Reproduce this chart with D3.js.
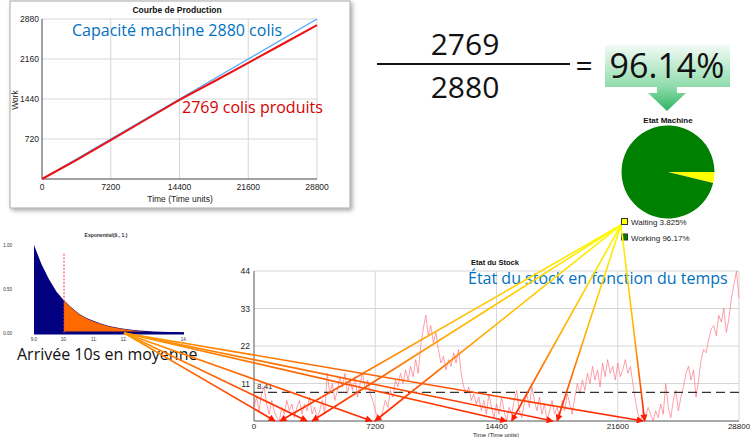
<!DOCTYPE html>
<html><head><meta charset="utf-8">
<script src="https://cdn.jsdelivr.net/npm/d3@7/dist/d3.min.js"></script>
<style>body{margin:0;background:#fff;} svg{display:block;}</style>
</head><body>
<svg id="c" width="750" height="437"></svg>
<script>
// ---------- DATA ----------
const prodTimes = [0,3600,7200,10800,14400,18000,21600,25200,28800];
const capacity  = [0,360,720,1080,1440,1800,2160,2520,2880];
const produced  = [0,340,700,1062,1425,1755,2090,2430,2769];
const prodXTicks = [0,7200,14400,21600,28800];
const prodYTicks = [720,1440,2160,2880];

const fracNum = "2769", fracDen = "2880", fracResult = "96.14%";

const pieLabels = ["Waiting 3.825%","Working 96.17%"];
const pieValues = [3.825,96.17];
const pieColors = ["#ffff00","#008000"];

const expX = [9,9.25,9.5,9.75,10,10.25,10.5,10.75,11,11.25,11.5,11.75,12,12.25,12.5,12.75,13,13.25,13.5,13.75,14];
const expY = [1.0,0.78,0.61,0.47,0.37,0.29,0.22,0.17,0.135,0.105,0.08,0.062,0.048,0.036,0.028,0.022,0.018,0.015,0.012,0.01,0.008];
const expXTicks = [9,10,11,12,14];
const expXLabels = ["9.0","10.","11.","12.","14."];
const expYTicks = [0,0.5,1];
const expYLabels = ["0.00","0.50","1.00"];

const stockStep = 150;
const stockValues = [
 4,7,3,8,10,5,2,6,3,1,
 0,4,2,6,3,5,1,4,6,2,
 5,3,7,2,4,1,3,6,2,14,
 8,11,6,9,13,10,14,8,12,9,
 13,7,11,14,9,12,8,6,3,1,
 0,3,6,4,9,7,12,10,14,11,
 15,12,16,13,18,14,22,27,31,25,
 28,23,26,21,17,19,15,18,16,20,
 17,21,14,10,8,10,6,8,5,7,
 3,6,2,8,4,1,5,2,7,3,
 0,4,2,6,9,3,1,5,8,4,
 10,6,3,7,2,5,0,3,6,2,
 4,1,6,3,8,5,2,7,11,8,
 12,9,14,11,16,12,15,10,17,13,
 18,14,16,12,17,13,15,18,14,16,
 11,6,2,0,3,1,4,2,0,3,
 1,5,2,11,4,1,6,9,3,7,
 10,14,16,12,15,7,12,18,21,20,
 24,27,28,25,31,29,33,26,30,36,
 40,44,36];
const stockXTicks = [0,7200,14400,21600,28800];
const stockYTicks = [11,22,33,44];
const stockMean = 8.41;

const waitTargets = [1550,3450,7180,15300,18000,23200];
const arrivalTargets = [1250,3150,7000,15000,17750,23100];
const arrivalSourceX = 12;

// ---------- DRAW ----------
const svg = d3.select("#c");
const defs = svg.append("defs");
const f = defs.append("filter").attr("id","sh").attr("x","-5%").attr("y","-5%").attr("width","115%").attr("height","115%");
f.append("feDropShadow").attr("dx",2).attr("dy",2).attr("stdDeviation",2).attr("flood-color","#000").attr("flood-opacity",0.35);

const sans = "'Liberation Sans', Arial, sans-serif";
const open = "'Open Sans', sans-serif";

// ---- Production chart ----
svg.append("rect").attr("x",10).attr("y",1).attr("width",340).attr("height",207)
  .attr("fill","#fff").attr("stroke","#a8a8a8").attr("filter","url(#sh)");
const xP = d3.scaleLinear().domain([0,28800]).range([42,317]);
const yP = d3.scaleLinear().domain([0,2880]).range([179,19]);
const gP = svg.append("g");
gP.selectAll(".vg").data(prodXTicks.slice(1)).join("line")
  .attr("x1",d=>xP(d)).attr("x2",d=>xP(d)).attr("y1",yP(0)).attr("y2",yP(2880))
  .attr("stroke","#d6d6d6");
gP.selectAll(".hg").data(prodYTicks).join("line")
  .attr("x1",xP(0)).attr("x2",xP(28800)).attr("y1",d=>yP(d)).attr("y2",d=>yP(d))
  .attr("stroke","#d6d6d6");
gP.append("line").attr("x1",xP(0)).attr("x2",xP(0)).attr("y1",yP(0)).attr("y2",yP(2880)).attr("stroke","#444");
gP.append("line").attr("x1",xP(0)).attr("x2",xP(28800)).attr("y1",yP(0)).attr("y2",yP(0)).attr("stroke","#444");
gP.selectAll(".xt").data(prodXTicks).join("text").attr("x",d=>xP(d)).attr("y",190)
  .attr("text-anchor","middle").attr("font-family",sans).attr("font-size",8.5).attr("fill","#222").text(d=>d);
gP.selectAll(".yt").data(prodYTicks).join("text").attr("x",39).attr("y",d=>yP(d)+3)
  .attr("text-anchor","end").attr("font-family",sans).attr("font-size",8.5).attr("fill","#222").text(d=>d);
gP.append("text").attr("x",180).attr("y",202).attr("text-anchor","middle").attr("font-family",sans)
  .attr("font-size",8.5).attr("fill","#222").text("Time (Time units)");
gP.append("text").attr("transform","translate(18,100) rotate(-90)").attr("text-anchor","middle")
  .attr("font-family",sans).attr("font-size",8.5).attr("fill","#222").text("Work");
gP.append("text").attr("x",177).attr("y",13).attr("text-anchor","middle").attr("font-family",sans)
  .attr("font-weight","bold").attr("font-size",8.5).attr("fill","#111").text("Courbe de Production");
const lineP = d3.line().x((d,i)=>xP(prodTimes[i])).y(d=>yP(d));
gP.append("path").attr("d",lineP(capacity)).attr("fill","none").attr("stroke","#4da6ff").attr("stroke-width",1.3);
gP.append("path").attr("d",lineP(produced)).attr("fill","none").attr("stroke","#ee1111").attr("stroke-width",2);
gP.append("text").attr("x",72).attr("y",36).attr("font-family",open).attr("font-size",16).attr("fill","#0070c0").text("Capacité machine 2880 colis");
gP.append("text").attr("x",182).attr("y",113).attr("font-family",open).attr("font-size",16).attr("fill","#d80000").text("2769 colis produits");

// ---- Fraction ----
svg.append("text").attr("x",465).attr("y",55).attr("text-anchor","middle").attr("font-family",open).attr("font-size",30).attr("fill","#111").text(fracNum);
svg.append("line").attr("x1",377).attr("x2",570).attr("y1",64).attr("y2",64).attr("stroke","#111").attr("stroke-width",2);
svg.append("text").attr("x",465).attr("y",98).attr("text-anchor","middle").attr("font-family",open).attr("font-size",30).attr("fill","#111").text(fracDen);
svg.append("text").attr("x",584).attr("y",76).attr("text-anchor","middle").attr("font-family",open).attr("font-size",30).attr("fill","#111").text("=");
const gb = defs.append("linearGradient").attr("id","gbox").attr("x1",0).attr("y1",0).attr("x2",0).attr("y2",1);
gb.append("stop").attr("offset","0%").attr("stop-color","#f2fbf5");
gb.append("stop").attr("offset","100%").attr("stop-color","#8edbab");
svg.append("rect").attr("x",605).attr("y",45).attr("width",125).attr("height",42).attr("fill","url(#gbox)");
const ga = defs.append("linearGradient").attr("id","garr").attr("x1",0).attr("y1",0).attr("x2",0).attr("y2",1);
ga.append("stop").attr("offset","0%").attr("stop-color","#8edbab");
ga.append("stop").attr("offset","100%").attr("stop-color","#2fb462");
svg.append("path").attr("d","M657,87 L677,87 L677,93 L686,93 L667,111 L648,93 L657,93 Z").attr("fill","url(#garr)");
svg.append("text").attr("x",667).attr("y",78).attr("text-anchor","middle").attr("font-family",open).attr("font-size",34).attr("fill","#111").text(fracResult);

// ---- Pie ----
svg.append("text").attr("x",668).attr("y",123).attr("text-anchor","middle").attr("font-family",sans)
  .attr("font-weight","bold").attr("font-size",8).attr("fill","#111").text("Etat Machine");
const pie = d3.pie().sort(null).startAngle(Math.PI/2).endAngle(Math.PI/2+2*Math.PI);
const arc = d3.arc().innerRadius(0).outerRadius(46.5);
svg.append("g").attr("transform","translate(668,172)").selectAll("path").data(pie(pieValues)).join("path")
  .attr("d",arc).attr("fill",(d,i)=>pieColors[i]);
const lg = svg.append("g");
pieLabels.forEach((t,i)=>{
  lg.append("rect").attr("x",621.5).attr("y",218.5+i*15.5).attr("width",6).attr("height",6)
    .attr("fill",pieColors[i]).attr("stroke","#333").attr("stroke-width",1);
  lg.append("text").attr("x",631).attr("y",225+i*15.5).attr("font-family",sans).attr("font-size",8).attr("fill","#222").text(t);
});

// ---- Exponential chart ----
const xE = d3.scaleLinear().domain([9,14]).range([34,184]);
const yE = d3.scaleLinear().domain([0,1]).range([333,245]);
const gE = svg.append("g");
gE.append("text").attr("x",106).attr("y",237).attr("text-anchor","middle").attr("font-family",sans)
  .attr("font-size",5).attr("font-weight","bold").attr("fill","#333").text("Exponential(9., 1.)");
const areaE = d3.area().x((d,i)=>xE(expX[i])).y0(yE(0)).y1(d=>yE(d));
gE.append("path").attr("d",areaE(expY)).attr("fill","#000080");
const orIdx = expX.map((x,i)=>i).filter(i=>expX[i]>=10 && expX[i]<=12.75);
const areaO = d3.area().x(i=>xE(expX[i])).y0(yE(0.018)).y1(i=>yE(expY[i]-0.006));
gE.append("path").attr("d",areaO(orIdx)).attr("fill","#ff6a00");
gE.append("rect").attr("x",xE(9)).attr("y",yE(0)-0.5).attr("width",xE(14)-xE(9)).attr("height",2).attr("fill","#000080");
gE.append("line").attr("x1",xE(10)).attr("x2",xE(10)).attr("y1",yE(0.9)).attr("y2",yE(0))
  .attr("stroke","#ff3344").attr("stroke-width",1).attr("stroke-dasharray","2,1.5");
gE.selectAll(".ex").data(expXTicks).join("text").attr("x",d=>xE(d)).attr("y",341).attr("text-anchor","middle")
  .attr("font-family",sans).attr("font-size",4.5).attr("fill","#333").text((d,i)=>expXLabels[i]);
gE.selectAll(".ey").data(expYTicks).join("text").attr("x",12).attr("y",d=>yE(d)+1.5).attr("text-anchor","end")
  .attr("font-family",sans).attr("font-size",4.5).attr("fill","#333").text((d,i)=>expYLabels[i]);
svg.append("text").attr("x",17).attr("y",360).attr("font-family",open).attr("font-size",16).attr("fill","#111").text("Arrivée 10s en moyenne");

// ---- Stock chart ----
const xS = d3.scaleLinear().domain([0,28800]).range([254,739]);
const yS = d3.scaleLinear().domain([0,44]).range([421,271]);
const gS = svg.append("g");
gS.selectAll(".sv").data(stockXTicks.slice(1)).join("line")
  .attr("x1",d=>xS(d)).attr("x2",d=>xS(d)).attr("y1",yS(0)).attr("y2",yS(44)).attr("stroke","#d6d6d6");
gS.selectAll(".sh").data(stockYTicks).join("line")
  .attr("x1",xS(0)).attr("x2",xS(28800)).attr("y1",d=>yS(d)).attr("y2",d=>yS(d)).attr("stroke","#d6d6d6");
gS.append("line").attr("x1",xS(0)).attr("x2",xS(0)).attr("y1",yS(0)).attr("y2",yS(44)).attr("stroke","#555");
gS.append("line").attr("x1",xS(0)).attr("x2",xS(28800)).attr("y1",yS(0)).attr("y2",yS(0)).attr("stroke","#555").attr("stroke-width",1.2);
gS.selectAll(".sx").data(stockXTicks).join("text").attr("x",d=>xS(d)).attr("y",429).attr("text-anchor","middle")
  .attr("font-family",sans).attr("font-size",8).attr("fill","#222").text(d=>d);
gS.selectAll(".sy").data(stockYTicks).join("text").attr("x",250).attr("y",d=>yS(d)+3).attr("text-anchor","end")
  .attr("font-family",sans).attr("font-size",8.5).attr("fill","#222").text(d=>d);
gS.append("text").attr("x",496).attr("y",436.5).attr("text-anchor","middle").attr("font-family",sans)
  .attr("font-size",6).attr("fill","#222").text("Time (Time units)");
gS.append("text").attr("x",495).attr("y",265).attr("text-anchor","middle").attr("font-family",sans)
  .attr("font-weight","bold").attr("font-size",7.5).attr("fill","#111").text("Etat du Stock");
const lineS = d3.line().x((d,i)=>xS(i*stockStep)).y(d=>yS(d));
gS.append("path").attr("d",lineS(stockValues)).attr("fill","none").attr("stroke","#ff6070").attr("stroke-opacity",0.6).attr("stroke-width",1);
gS.append("line").attr("x1",xS(0)).attr("x2",xS(28800)).attr("y1",yS(stockMean)).attr("y2",yS(stockMean))
  .attr("stroke","#333").attr("stroke-width",1.2).attr("stroke-dasharray","9,5");
gS.append("text").attr("x",257).attr("y",yS(stockMean)-3).attr("font-family",sans).attr("font-size",8).attr("fill","#222").text(stockMean);
svg.append("text").attr("x",468).attr("y",284).attr("font-family",open).attr("font-size",16).attr("fill","#0070c0").text("État du stock en fonction du temps");

// ---- Connectors ----
defs.append("marker").attr("id","arr").attr("viewBox","0 0 10 10").attr("refX",9).attr("refY",5)
  .attr("markerWidth",8).attr("markerHeight",7).attr("markerUnits","userSpaceOnUse").attr("orient","auto")
  .append("path").attr("d","M0,0L10,5L0,10z").attr("fill","#ff1a00");
const gC = svg.append("g");
function connector(id, sx, sy, tx, ty, stops){
  const g = defs.append("linearGradient").attr("id",id).attr("gradientUnits","userSpaceOnUse")
    .attr("x1",sx).attr("y1",sy).attr("x2",tx).attr("y2",ty);
  stops.forEach(s=>g.append("stop").attr("offset",s[0]).attr("stop-color",s[1]));
  gC.append("line").attr("x1",sx).attr("y1",sy).attr("x2",tx).attr("y2",ty)
    .attr("stroke",`url(#${id})`).attr("stroke-width",1.6).attr("marker-end","url(#arr)");
}
const wsx = 621, wsy = 225;
waitTargets.forEach((t,i)=>connector("gw"+i, wsx, wsy, xS(t), yS(0), [["0%","#ffff00"],["55%","#ffb000"],["100%","#ff1a00"]]));
arrivalTargets.forEach((t,i)=>connector("ga"+i, xE(arrivalSourceX), yE(0), xS(t), yS(0), [["0%","#ff9a00"],["100%","#ff2200"]]));
</script>
</body></html>
